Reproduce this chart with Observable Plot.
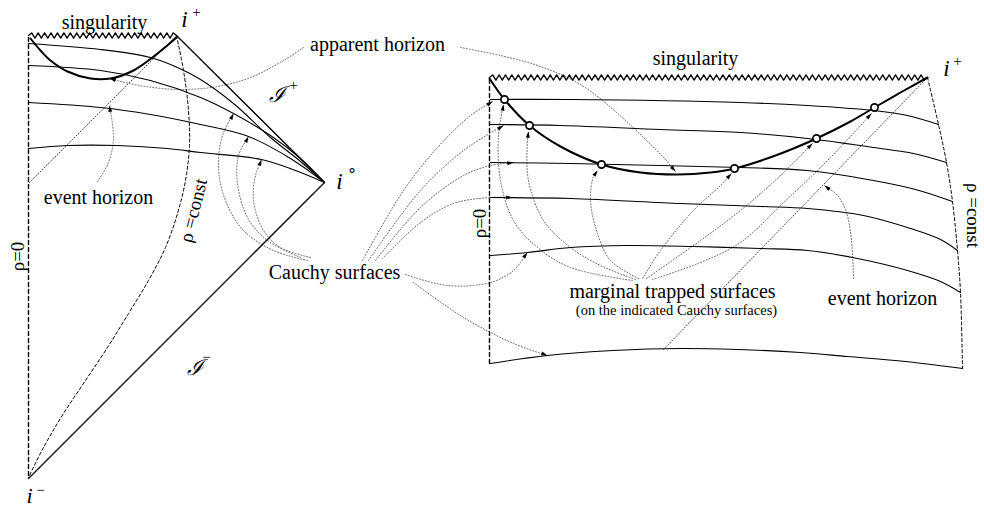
<!DOCTYPE html>
<html><head><meta charset="utf-8">
<script src="https://cdn.jsdelivr.net/npm/d3@7"></script>
<script src="https://cdn.jsdelivr.net/npm/@observablehq/plot@0.6"></script>
<style>body{margin:0;background:#fff}</style>
</head><body><div id="chart"></div>
<script>
// ---------- data: positions ----------
const leftSingularity = [[28,35],[176,35]];
const rightSingularity = [[489,77],[927,77]];
const leftRho0 = [[28,37],[28,478]];
const rightRho0 = [[489,79],[489,363]];
const leftScriPlus = [[176,35],[324,182]];
const leftScriMinus = [[28,478],[324,182]];
const leftRhoConst = [[176,35],[183,70],[188,110],[189,145],[185,180],[177,213],[165,247],[148,280],[128,313],[107,347],[85,380],[63,413],[43,447],[28,477]];
const rightRhoConst = [[927,77],[938,124],[946,162],[952,201],[957,250],[960,292],[962,368]];
const leftCauchy = [
  [[28,43],[100,49],[150,57],[177,67],[200,79],[233,103],[270,137],[300,161],[324,182]],
  [[28,65],[100,70],[150,80],[200,97],[233,113],[270,135],[300,158],[324,182]],
  [[28,102],[100,107],[150,114],[200,124],[248,136],[290,158],[324,182]],
  [[28,148],[67,145],[117,145],[167,148],[200,152],[261,159],[295,170],[324,182]]
];
const rightCauchy = [
  [[490,99],[570,99],[740,102],[807,105],[873,110],[907,115],[938,124]],
  [[490,124],[560,125],[660,129],[740,132],[807,138],[873,147],[913,153],[946,162]],
  [[490,162],[570,163],[660,165],[740,167],[807,170],[873,180],[915,189],[952,201]],
  [[490,197],[570,198],[680,203],[760,206],[807,208],[863,215],[910,228],[940,239],[957,250]],
  [[490,255],[527,252],[570,247],[627,245],[693,246],[760,248],[807,250],[857,258],[907,270],[940,281],[960,292]],
  [[490,363],[547,355],[613,350],[680,348],[737,349],[800,352],[847,356],[905,361],[962,368]]
];
const leftApparent = [[30,38],[40,50],[50,60],[67,71],[90,78],[110,78],[133,70],[157,53],[176,37]];
const rightApparent = [[489,78],[504,99],[529,125],[560,146],[601,164],[640,172],[677,174],[710,172],[734,168],[775,155],[816,138],[850,121],[874,107],[900,92],[927,77]];
const leftEvent = [[176,35],[28,183]];
const rightEvent = [[927,77],[663,349]];
const trappedSurfaces = [[504,99],[529,125],[601,164],[734,168],[816,138],[874,107]];
const pointers = [
  [[303,47],[283,60],[250,77],[217,86],[180,89],[145,86],[120,81],[109,78]],
  [[460,47],[500,55],[540,66],[580,84],[615,111],[645,139],[664,158],[675,171]],
  [[97,181],[108,162],[113,138],[109,105]],
  [[853,278],[851,240],[846,212],[837,195],[824,185]],
  [[307,260],[273,250],[243,230],[225,200],[218,167],[222,135],[233,113]],
  [[300,257],[267,240],[247,217],[237,183],[238,155],[248,136]],
  [[310,257],[280,247],[263,230],[253,200],[255,175],[261,159]],
  [[362,260],[403,190],[437,147],[470,115],[492,101]],
  [[368,260],[420,190],[463,150],[503,125]],
  [[375,260],[420,207],[463,175],[490,165],[513,162]],
  [[382,258],[420,222],[453,203],[490,197],[512,197]],
  [[405,274],[447,285],[490,282],[513,270],[527,252]],
  [[413,282],[463,317],[513,343],[547,355]],
  [[632,280],[570,267],[537,247],[513,220],[500,180],[498,135],[503,104]],
  [[635,279],[600,265],[570,247],[543,220],[528,180],[527,140],[528,131]],
  [[638,278],[610,260],[597,233],[590,200],[593,176],[597,170]],
  [[642,278],[660,250],[693,210],[720,185],[731,173]],
  [[646,278],[700,240],[740,210],[780,175],[812,143]],
  [[652,279],[700,262],[740,242],[780,205],[830,157],[871,113]]
];
const labels = [
  {text:"singularity", x:104, y:28, size:20},
  {text:"singularity", x:695, y:64, size:20},
  {text:"apparent horizon", x:377, y:50, size:20},
  {text:"event horizon", x:98, y:203, size:20},
  {text:"Cauchy surfaces", x:334, y:278, size:20},
  {text:"marginal trapped surfaces", x:672, y:297, size:20},
  {text:"(on the indicated Cauchy surfaces)", x:676, y:314, size:14.5},
  {text:"event horizon", x:882, y:304, size:20}
];
const rotatedLabels = [
  {text:"ρ=0", x:17, y:256, rotate:-90},
  {text:"ρ =const", x:193, y:210, rotate:-76},
  {text:"ρ=0", x:479, y:223, rotate:-90},
  {text:"ρ =const", x:973, y:215, rotate:90}
];
const italicLabels = [
  {text:"i", x:184, y:26, size:23},
  {text:"i", x:339, y:188, size:23},
  {text:"i", x:29, y:502, size:22},
  {text:"i", x:946, y:75, size:23},
  {text:"ℐ", x:276, y:101, size:22},
  {text:"ℐ", x:194, y:374, size:22}
];
const superscripts = [
  {text:"+", x:196, y:12, size:15},
  {text:"∘", x:351, y:170, size:16},
  {text:"−", x:40, y:490, size:15},
  {text:"+", x:957, y:61, size:15},
  {text:"+", x:293, y:85, size:15},
  {text:"−", x:206, y:357, size:15}
];

// ---------- helpers ----------
const flat = (list) => list.flatMap((pts, id) => pts.map(([x, y]) => ({x, y, id})));
function zigzag([x0, y0], [x1, y1], period = 6.4, amp = 2.6) {
  const n = Math.round((x1 - x0) / (period / 2));
  const pts = [];
  for (let i = 0; i <= n; i++) {
    const t = i / n;
    pts.push([x0 + t * (x1 - x0), y0 + t * (y1 - y0) + (i % 2 ? -amp : amp) * (i === 0 || i === n ? 0 : 1)]);
  }
  return pts;
}
const arrowSymbol = {
  draw(ctx, size) {
    const r = Math.sqrt(size / Math.PI);
    ctx.moveTo(0, 0);
    ctx.lineTo(-0.6 * r, 1.9 * r);
    ctx.lineTo(0.6 * r, 1.9 * r);
    ctx.closePath();
  }
};
const heads = pointers.map(p => {
  const [a, b] = [p[p.length - 2], p[p.length - 1]];
  return {x: b[0], y: b[1], rot: Math.atan2(b[0] - a[0], -(b[1] - a[1])) * 180 / Math.PI};
});
const serif = "Liberation Serif, Times New Roman, serif";
const L = (pts, o) => Plot.line(flat(pts), {x: "x", y: "y", z: "id", ...o});

const chart = Plot.plot({
  width: 984, height: 507, margin: 0,
  x: {domain: [0, 984], range: [0, 984], axis: null},
  y: {domain: [0, 507], range: [0, 507], axis: null},
  style: {background: "#fff", fontFamily: serif},
  marks: [
    L(pointers, {curve: "catmull-rom", stroke: "#555", strokeWidth: 0.9, strokeDasharray: "1,2"}),
    L([leftEvent, rightEvent], {stroke: "#333", strokeWidth: 0.9, strokeDasharray: "1,2"}),
    L([zigzag(...leftSingularity), zigzag(...rightSingularity)], {stroke: "#000", strokeWidth: 1.3}),
    L([leftRho0, rightRho0], {stroke: "#000", strokeWidth: 1.4, strokeDasharray: "4,3"}),
    L([leftRhoConst, rightRhoConst], {curve: "catmull-rom", stroke: "#000", strokeWidth: 1, strokeDasharray: "3,2.5"}),
    L([leftScriPlus, leftScriMinus], {stroke: "#000", strokeWidth: 1.3}),
    L(leftCauchy, {curve: "catmull-rom", stroke: "#000", strokeWidth: 1.1}),
    L(rightCauchy, {curve: "catmull-rom", stroke: "#000", strokeWidth: 1.1}),
    L([leftApparent, rightApparent], {curve: "catmull-rom", stroke: "#000", strokeWidth: 2}),
    Plot.dot(trappedSurfaces, {x: d => d[0], y: d => d[1], r: 3.6, stroke: "#000", strokeWidth: 1.7, fill: "#fff"}),
    Plot.dot(heads, {x: "x", y: "y", rotate: "rot", symbol: arrowSymbol, r: 3.3, fill: "#000", stroke: "none"}),
    Plot.text(labels, {x: "x", y: "y", text: "text", fontSize: d => d.size, lineAnchor: "bottom", textAnchor: "middle", fontFamily: serif, fill: "#000"}),
    ...rotatedLabels.map(d => Plot.text([d], {x: "x", y: "y", text: "text", rotate: d.rotate, fontSize: 19, fontFamily: serif, fill: "#000"})),
    Plot.text(italicLabels, {x: "x", y: "y", text: "text", fontSize: d => d.size, fontStyle: "italic", lineAnchor: "bottom", textAnchor: "middle", fontFamily: serif, fill: "#000"}),
    Plot.text(superscripts, {x: "x", y: "y", text: "text", fontSize: d => d.size, lineAnchor: "middle", textAnchor: "middle", fontFamily: serif, fill: "#000"})
  ]
});
document.getElementById("chart").appendChild(chart);
</script>
</body></html>
